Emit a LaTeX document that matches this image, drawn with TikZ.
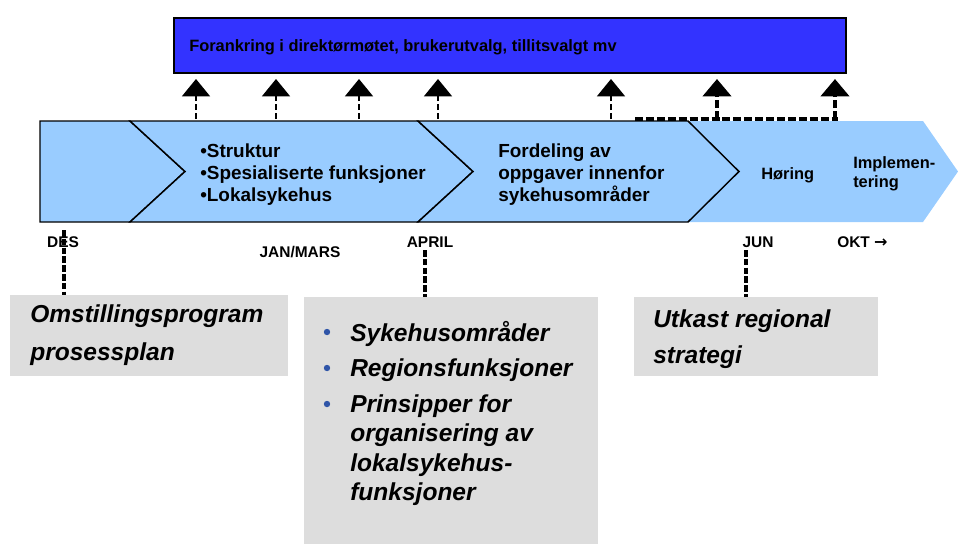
\documentclass[tikz,border=0pt]{standalone}
\usepackage{fontspec}
\setmainfont{Liberation Sans}
\newfontfamily\symfont{DejaVu Sans}
\usetikzlibrary{arrows.meta}

\definecolor{banblue}{HTML}{3333FF}
\definecolor{bandblue}{HTML}{99CCFF}
\definecolor{notegray}{HTML}{DDDDDD}
\definecolor{bulblue}{HTML}{2F55A8}

\tikzset{
  phase/.style={fill=bandblue,draw=black,line width=1.1pt,line join=miter},
  bandtxt/.style={font=\bfseries\fontsize{14.2}{16.5}\selectfont,align=left,anchor=west,inner sep=0pt},
  smalltxt/.style={font=\bfseries\fontsize{12.3}{14.25}\selectfont,align=left,anchor=west,inner sep=0pt},
  month/.style={font=\bfseries\fontsize{11.6}{14}\selectfont,inner sep=0pt},
  mline/.style={line width=2.4pt,dash pattern=on 5pt off 1.6pt},
  uparrow/.style={line width=1.1pt,dash pattern=on 4.5pt off 2.2pt,-{Triangle[width=21pt,length=13pt]},shorten >=3.75pt},
  thickarrow/.style={uparrow,line width=3pt,dash pattern=on 6pt off 2.2pt},
  note/.style={fill=notegray,inner sep=0pt,anchor=north west},
  notetxt/.style={font=\bfseries\itshape\fontsize{18.4}{22}\selectfont,align=left,anchor=west,inner sep=0pt},
  bul/.style={circle,fill=bulblue,inner sep=0pt,minimum size=4.8pt}
}

\begin{document}
\begin{tikzpicture}[x=0.75pt,y=-0.75pt]
  \useasboundingbox (0,0) rectangle (958,544);

  % top banner
  \node[draw=black,line width=1.5pt,fill=banblue,anchor=north west,minimum width=504pt,minimum height=41.25pt] (ban) at (173,17) {};
  \node[smalltxt] (bantxt) at (189,47) {Forankring i direktørmøtet, brukerutvalg, tillitsvalgt mv};

  % phase band
  \fill[bandblue] (680,121) -- (923,121) -- (958,171.5) -- (923,222) -- (680,222) -- cycle;
  \draw[phase] (40,121) -- (130,121) -- (185,171.5) -- (130,222) -- (40,222) -- cycle;
  \draw[phase] (130,121) -- (418,121) -- (473,171.5) -- (418,222) -- (130,222) -- (185,171.5) -- cycle;
  \draw[phase] (418,121) -- (688,121) -- (739,171.5) -- (688,222) -- (418,222) -- (473,171.5) -- cycle;

  \node[bandtxt] (strukt) at (200,175) {•Struktur\\•Spesialiserte funksjoner\\•Lokalsykehus};
  \node[bandtxt] (ford) at (498,175) {Fordeling av\\oppgaver innenfor\\sykehusområder};
  \node[smalltxt] (hor) at (761,175) {Høring};
  \node[smalltxt] (impl) at (853,174) {Implemen-\\tering};

  % arrows up to the banner
  \foreach \x [count=\i] in {196,276,359,438,611,717,835} {\coordinate (f\i) at (\x,119);}
  \foreach \i in {1,...,5} {\draw[uparrow] (f\i) -- (f\i |- ban.south);}
  \coordinate (hl) at (635,119);
  \coordinate (hr) at (838,119);
  \draw[line width=3pt,dash pattern=on 6pt off 2.2pt] (hl) -- (hr);
  \foreach \i in {6,7} {\draw[thickarrow] (f\i) -- (f\i |- ban.south);}

  % months
  \node[month] (des) at (63,242) {DES};
  \node[month] (janmars) at (300,252) {JAN/MARS};
  \node[month] (april) at (430,242) {APRIL};
  \node[month] (jun) at (758,242) {JUN};
  \node[month,anchor=west] (okt) at (837,242) {OKT {\symfont\fontsize{12}{14}\selectfont →}};

  % notes below
  \node[note,minimum width=208.5pt,minimum height=60.75pt] (omst) at (10,295) {};
  \node[note,minimum width=220.5pt,minimum height=185.25pt] (ctr) at (304,297) {};
  \node[note,minimum width=183pt,minimum height=59.25pt] (utk) at (634,297) {};

  \node[notetxt,font=\bfseries\itshape\fontsize{18.4}{28.5}\selectfont] (omsttxt) at (30,335) {Omstillingsprogram\\prosessplan};
  \node[notetxt,font=\bfseries\itshape\fontsize{18.4}{27}\selectfont] (utktxt) at (653,339) {Utkast regional\\strategi};

  \node[bul] (b1) at (327,332) {};
  \node[bul] (b2) at (327,368) {};
  \node[bul] (b3) at (327,404) {};
  \node[notetxt] (i1) at (350,334) {Sykehusområder};
  \node[notetxt] (i2) at (350,370) {Regionsfunksjoner};
  \node[notetxt] (i3) at (350,450) {Prinsipper for\\organisering av\\lokalsykehus-\\funksjoner};

  % month lines
  \coordinate (m1) at (64,230);
  \coordinate (m2) at (425,250);
  \coordinate (m3) at (746,250);
  \draw[mline] (m1) -- (m1 |- omst.north);
  \draw[mline] (m2) -- (m2 |- ctr.north);
  \draw[mline] (m3) -- (m3 |- utk.north);
\end{tikzpicture}
\end{document}
